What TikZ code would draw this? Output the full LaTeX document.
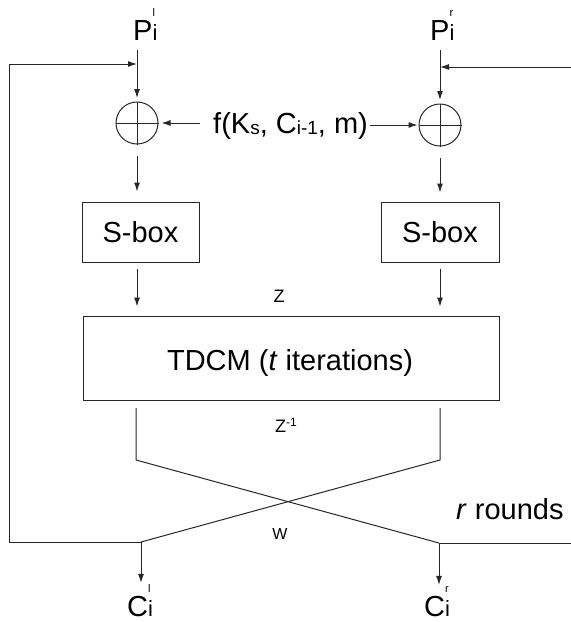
\documentclass[tikz,border=0pt]{standalone}
\usepackage{fontspec}
\setmainfont{Liberation Sans}
\usetikzlibrary{arrows.meta}
% letter with a subscript and a raised superscript stacked after it
\newcommand\subsup[3]{#1\makebox[0pt][l]{\raisebox{24pt}{\fontsize{11}{11}\selectfont #3}}{\fontsize{22}{22}\selectfont #2}}
% lowered index inside running text
\newcommand\lowidx[1]{\raisebox{-1.5pt}{\fontsize{19}{19}\selectfont #1}}

\begin{document}
\begin{tikzpicture}[x=1pt,y=-1pt,
  wire/.style={line width=1pt, draw=black!85},
  arr/.style={wire, -{Latex[length=9pt,width=6pt]}},
  lbl/.style={inner sep=0pt, font=\fontsize{29}{33}\selectfont},
  small/.style={inner sep=0pt, font=\fontsize{18}{20}\selectfont},
  blk/.style={draw=black!85, line width=1pt, inner sep=0pt},
  xor/.style={circle, draw=black!85, line width=1pt, minimum size=42pt, inner sep=0pt}]
\useasboundingbox (0,0) rectangle (571,622);

% inputs
\node[lbl, anchor=base west] (pl) at (133,40) {\subsup{P}{i}{l}};
\node[lbl, anchor=base west] (pr) at (430,40) {\subsup{P}{i}{r}};

% XOR gates
\node[xor] (xl) at (137,123) {};
\node[xor] (xr) at (440,125) {};
\draw[wire] (xl.north) -- (xl.south) (xl.west) -- (xl.east);
\draw[wire] (xr.north) -- (xr.south) (xr.west) -- (xr.east);

% key-dependent mask
\node[lbl, anchor=base west] (f) at (213,133) {f(K\lowidx{s}, C\lowidx{i-1}, m)};
\coordinate (fl) at (200,123);
\coordinate (fr) at (370,125);
\draw[arr, shorten >=3pt] (fl) -- (xl.east);
\draw[arr, shorten >=1pt] (fr) -- (xr.west);

% S-boxes
\node[blk, minimum width=117pt, minimum height=60pt] (sl) at (140.5,232) {};
\node[lbl] (sltext) at (sl.center) {S-box};
\node[blk, minimum width=118pt, minimum height=60pt] (sr) at (440,232) {};
\node[lbl] (srtext) at (sr.center) {S-box};

% chaotic map block
\node[blk, minimum width=416pt, minimum height=84pt] (tdcm) at (291,358) {};
\node[lbl, anchor=base] (tdcmtext) at (290,370) {TDCM (\textit{t} iterations)};

% small labels
\node[small] (z) at (279,296) {Z};
\node[small] (zinv) at (286,425) {Z\raisebox{6pt}{\fontsize{12}{12}\selectfont -1}};
\node[small, font=\fontsize{16}{18}\selectfont] (w) at (280,534) {W};
\node[lbl, anchor=base west] (rounds) at (456,519) {\textit{r} rounds};

% outputs
\node[lbl, anchor=base west] (cl) at (127,616) {\subsup{C}{i}{l}};
\node[lbl, anchor=base west] (cr) at (424,616) {\subsup{C}{i}{r}};

% main data path
\draw[arr, shorten <=10pt, shorten >=3.5pt] (xl |- pl.south) -- (xl.north);
\draw[arr, shorten <=10pt, shorten >=3.5pt] (xr |- pr.south) -- (xr.north);
\draw[arr, shorten <=11pt, shorten >=10pt] (xl.south) -- (xl |- sl.north);
\draw[arr, shorten <=11pt, shorten >=9pt] (xr.south) -- (xr |- sr.north);
\draw[arr, shorten <=6pt, shorten >=9pt] (xl |- sl.south) -- (xl |- tdcm.north);
\draw[arr, shorten <=6pt, shorten >=9pt] (xr |- sr.south) -- (xr |- tdcm.north);

% swap of the two halves
\coordinate (ol) at (136,408);
\coordinate (kl) at (136,460);
\coordinate (or) at (440,408);
\coordinate (kr) at (440,460);
\coordinate (bjl) at (141,542);
\coordinate (bjr) at (439,543);
\draw[wire] (ol) -- (kl) -- (bjr);
\draw[wire] (or) -- (kr) -- (bjl);
\draw[arr, shorten >=1pt] (bjl) -- (bjl |- cl.north);
\draw[arr, shorten >=1pt] (bjr) -- (bjr |- cr.north);

% feedback for the next round
\coordinate (lb) at (9,542);
\coordinate (lt) at (9,64);
\draw[arr] (bjl) -- (lb) -- (lt) -- (xl |- lt);
\coordinate (rb) at (571,543);
\coordinate (rt) at (571,67);
\draw[wire] (bjr) -- (rb);
\draw[arr] (rt) -- (xr |- rt);
\end{tikzpicture}
\end{document}
